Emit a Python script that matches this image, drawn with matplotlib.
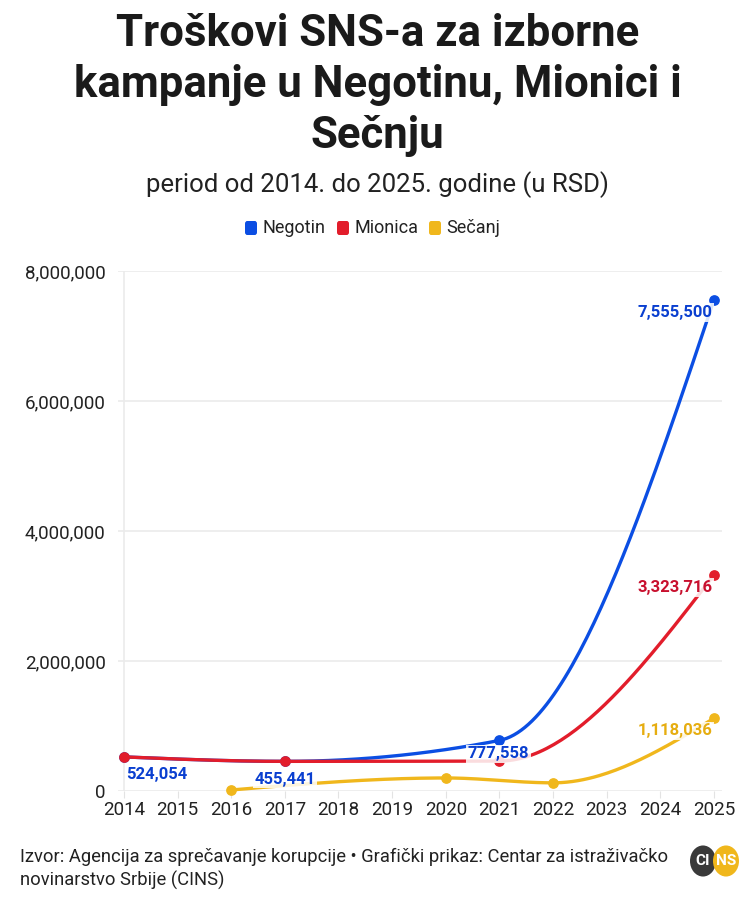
import numpy as np
import matplotlib
matplotlib.use("Agg")
import matplotlib.pyplot as plt
from matplotlib.patches import Circle, FancyBboxPatch

plt.rcParams['font.family'] = ['Roboto', 'DejaVu Sans']

# podaci
neg_god = [2014, 2017, 2021, 2025]
neg_val = [524054, 455441, 777558, 7555500]
mio_god = [2014, 2017, 2021, 2025]
mio_val = [524054, 455441, 460000, 3323716]
sec_god = [2016, 2020, 2022, 2025]
sec_val = [15000, 200000, 125000, 1118036]

y_ticks = [0, 2000000, 4000000, 6000000, 8000000]
godine = list(range(2014, 2026))

PLAVA = '#0b4ee3'
CRVENA = '#e21d2b'
ZUTA = '#f0b71c'


# monotone cubic kao d3.curveMonotoneX
def monotone(xs, ys, n=60):
    xs = np.asarray(xs, float)
    ys = np.asarray(ys, float)
    h = np.diff(xs)
    s = np.diff(ys) / h
    t = np.zeros(len(xs))
    for i in range(1, len(xs) - 1):
        p = (s[i - 1] * h[i] + s[i] * h[i - 1]) / (h[i - 1] + h[i])
        t[i] = (np.sign(s[i - 1]) + np.sign(s[i])) * min(abs(s[i - 1]), abs(s[i]), 0.5 * abs(p))
    t[0] = (3 * s[0] - t[1]) / 2
    t[-1] = (3 * s[-1] - t[-2]) / 2
    X, Y = [], []
    for i in range(len(xs) - 1):
        u = np.linspace(0, 1, n)
        h00 = 2 * u**3 - 3 * u**2 + 1
        h10 = u**3 - 2 * u**2 + u
        h01 = -2 * u**3 + 3 * u**2
        h11 = u**3 - u**2
        X.append(xs[i] + u * h[i])
        Y.append(h00 * ys[i] + h10 * h[i] * t[i] + h01 * ys[i + 1] + h11 * h[i] * t[i + 1])
    return np.concatenate(X), np.concatenate(Y)


fig = plt.figure(figsize=(7.55, 9.02), dpi=100)
ax = fig.add_axes([0.1563, 0.1231, 0.80, 0.5765])
ax.set_xlim(2013.89, 2025.15)
ax.set_ylim(0, 8000000)

for yt in y_ticks:
    ax.axhline(yt, color='#ebebeb', lw=1.2, zorder=0)
ax.axvline(2014, color='#ebebeb', lw=1.2, zorder=0)

for s in ax.spines.values():
    s.set_visible(False)
ax.set_yticks(y_ticks)
ax.set_yticklabels(['{:,}'.format(v) for v in y_ticks])
ax.set_xticks(godine)
ax.set_xticklabels([str(g) for g in godine])
ax.tick_params(axis='y', length=0, pad=9, labelsize=13.5, labelcolor='#222222')
ax.tick_params(axis='x', length=5, color='#e3e3e3', pad=2, labelsize=13.5, labelcolor='#222222')

for god, val, boja, z in [(sec_god, sec_val, ZUTA, 2), (neg_god, neg_val, PLAVA, 3), (mio_god, mio_val, CRVENA, 4)]:
    xx, yy = monotone(god, val)
    ax.plot(xx, yy, color=boja, lw=2.4, zorder=z, clip_on=False, solid_capstyle='round')
    ax.scatter(god, val, s=45, color=boja, zorder=z + 0.5, clip_on=False)

halo = dict(boxstyle='square,pad=0.1', fc='white', ec='none', alpha=0.85)
lab = dict(fontsize=12, fontweight='bold', zorder=10)
ax.text(2014.05, 524054 - 160000, '524,054', color='#0a3fd0', ha='left', va='top', **lab)
ax.text(2017, 455441 - 160000, '455,441', color='#0a3fd0', ha='center', va='top', bbox=halo, **lab)
ax.text(2020.98, 777558 - 90000, '777,558', color='#0a3fd0', ha='center', va='top', bbox=halo, **lab)
ax.text(2024.97, 7555500 - 80000, '7,555,500', color='#0a3fd0', ha='right', va='top', bbox=halo, **lab)
ax.text(2024.97, 3323716 - 80000, '3,323,716', color='#c8102e', ha='right', va='top', bbox=halo, **lab)
ax.text(2024.97, 1118036 - 80000, '1,118,036', color='#e6ad10', ha='right', va='top', bbox=halo, **lab)

# naslov
fig.text(0.5, 1 - 85 / 902, 'Troškovi SNS-a za izborne\nkampanje u Negotinu, Mionici i\nSečnju',
         ha='center', va='center', fontsize=31.5, fontweight='bold', color='#1a1a1a', linespacing=1.27)
fig.text(0.5, 0.795, 'period od 2014. do 2025. godine (u RSD)', ha='center', va='center',
         fontsize=18.5, color='#222222')

# legenda
leg_y = 1 - 228 / 902
stavke = [('Negotin', PLAVA, 245), ('Mionica', CRVENA, 337), ('Sečanj', ZUTA, 429)]
for ime, boja, lx in stavke:
    fig.patches.append(FancyBboxPatch((lx / 755, leg_y - 7 / 902), 12 / 755, 14 / 902,
                                      boxstyle='round,pad=0,rounding_size=0.003',
                                      transform=fig.transFigure, fc=boja, ec='none'))
    fig.text((lx + 17) / 755, leg_y, ime, ha='left', va='center', fontsize=13, color='#222222')

# izvor
fig.text(0.026, 1 - 869 / 902, 'Izvor: Agencija za sprečavanje korupcije • Grafički prikaz: Centar za istraživačko\nnovinarstvo Srbije (CINS)',
         ha='left', va='center', fontsize=13.2, color='#222222', linespacing=1.35)

# logo
r = 13
for cx, boja in [(703, '#3a3a3a'), (726, ZUTA)]:
    fig.patches.append(Circle((cx / 755, 1 - 861 / 902), r / 755, transform=fig.transFigure, fc=boja, ec='none'))
fig.text(703 / 755, 1 - 861 / 902, 'CI', ha='center', va='center', fontsize=11, fontweight='bold', color='white')
fig.text(726 / 755, 1 - 861 / 902, 'NS', ha='center', va='center', fontsize=11, fontweight='bold', color='white')

fig.savefig('out.png', dpi=100, facecolor='white')
